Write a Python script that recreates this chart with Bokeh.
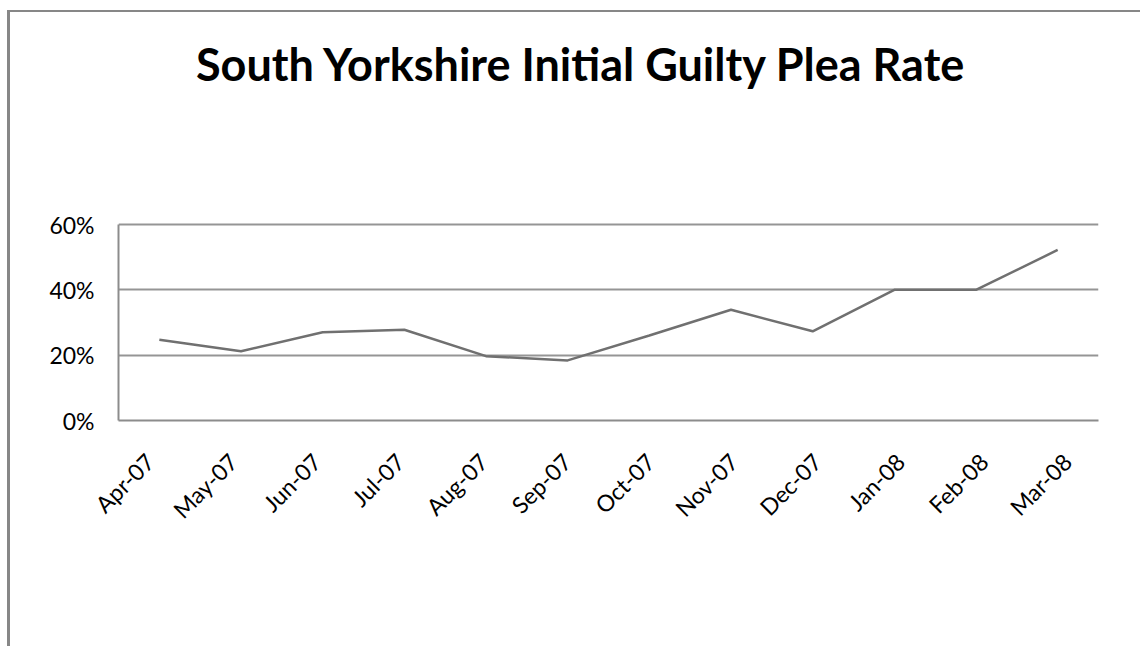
from math import pi
from bokeh.plotting import figure
from bokeh.models import (FactorRange, Range1d, FixedTicker, NumeralTickFormatter,
                          Label, CategoricalAxis)
from bokeh.embed import file_html
from bokeh.resources import INLINE

months = ["Apr-07", "May-07", "Jun-07", "Jul-07", "Aug-07", "Sep-07",
          "Oct-07", "Nov-07", "Dec-07", "Jan-08", "Feb-08", "Mar-08"]
plea_rate = [0.247, 0.212, 0.27, 0.278, 0.197, 0.184,
             0.26, 0.339, 0.273, 0.40, 0.40, 0.522]
y_ticks = [0.0, 0.2, 0.4, 0.6]
title_text = "South Yorkshire Initial Guilty Plea Rate"

FONT = "Lato"

# frame extends above the 60% line to host the chart title
p = figure(width=1133, height=636, x_range=FactorRange(*months),
           y_range=Range1d(0, 1.2), output_backend="svg", toolbar_location=None,
           min_border_left=108, min_border_right=45, min_border_top=16,
           min_border_bottom=228)
p.styles = {"margin-top": "10px", "margin-left": "7px",
            "border-top": "2px solid #878787",
            "border-left": "3px solid #878787"}
p.title.text = ""
p.title.standoff = 0

p.add_layout(Label(x=5.67, y=1.092, text=title_text, text_align="center",
                   text_baseline="alphabetic", text_font=FONT,
                   text_font_size="45px", text_font_style="bold",
                   text_color="black"))

p.line(x=months, y=plea_rate, line_color="#707070", line_width=2.5)

p.outline_line_color = None
p.background_fill_color = "white"
p.border_fill_color = "white"

p.xgrid.grid_line_color = None
p.ygrid.ticker = FixedTicker(ticks=y_ticks)
p.ygrid.grid_line_color = "#959595"
p.ygrid.grid_line_width = 2

p.yaxis.ticker = FixedTicker(ticks=y_ticks)
p.yaxis.bounds = (y_ticks[0], y_ticks[-1])
p.yaxis.formatter = NumeralTickFormatter(format="0%")

# category labels: the reference spreads them slightly wider than the points
p.xaxis.visible = False
p.extra_x_ranges = {"labels": FactorRange(*months, range_padding=-0.0208333)}
xlab = CategoricalAxis(x_range_name="labels")
p.add_layout(xlab, "below")

for ax in (xlab, p.yaxis[0]):
    ax.axis_line_color = "#8c8c8c"
    ax.axis_line_width = 2
    ax.major_tick_line_color = None
    ax.minor_tick_line_color = None
    ax.major_tick_out = 0
    ax.major_tick_in = 0
    ax.minor_tick_out = 0
    ax.minor_tick_in = 0
    ax.major_label_text_font = FONT
    ax.major_label_text_color = "black"
p.yaxis.major_label_text_font_size = "23px"
xlab.major_label_text_font_size = "23px"
p.yaxis.major_label_standoff = 24
xlab.major_label_orientation = pi / 4
xlab.major_label_standoff = 37

open("out.html", "w").write(file_html(p, INLINE))
